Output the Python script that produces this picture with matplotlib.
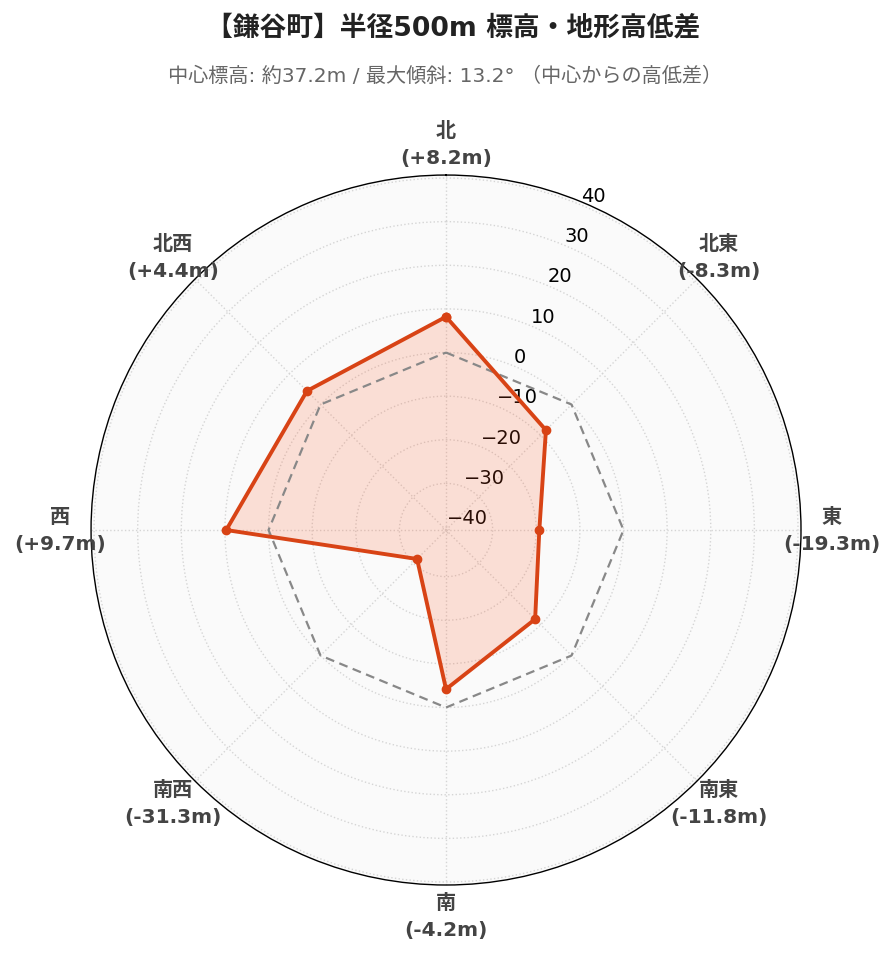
import numpy as np
import matplotlib.pyplot as plt

plt.rcParams['font.family'] = ['DejaVu Sans', 'Noto Sans CJK JP']

# data
directions = ['北', '北東', '東', '南東', '南', '南西', '西', '北西']
diffs = [8.2, -8.3, -19.3, -11.8, -4.2, -31.3, 9.7, 4.4]
ref_level = [0, 0, 0, 0, 0, 0, 0, 0]
r_ticks = [-40, -30, -20, -10, 0, 10, 20, 30, 40]

title = '【鎌谷町】半径500m 標高・地形高低差'
subtitle = '中心標高: 約37.2m / 最大傾斜: 13.2° （中心からの高低差）'

rmax = max(abs(v) for v in diffs) * 1.3
theta = np.deg2rad(np.arange(len(directions)) * 360 / len(directions))
th_closed = np.append(theta, theta[0])
d_closed = np.append(diffs, diffs[0])
ref_closed = np.append(ref_level, ref_level[0])

fig = plt.figure(figsize=(8.96, 9.62), dpi=100)
ax = fig.add_axes([0.1016, 0.079, 0.7924, 0.738], projection='polar')
ax.set_theta_zero_location('N')
ax.set_theta_direction(-1)
ax.set_facecolor('#fafafa')
ax.set_axisbelow(True)

ax.plot(th_closed, ref_closed, color='#888888', lw=1.6, ls=(0, (4, 2.5)), zorder=2)
ax.fill(th_closed, d_closed, color='#ff5722', alpha=0.17, lw=0, zorder=1)
ax.plot(th_closed, d_closed, color='#d84315', lw=2.8, marker='o', ms=6, zorder=3)

ax.set_ylim(-rmax, rmax)
ax.set_yticks(r_ticks)
ax.set_yticklabels([str(t).replace('-', '\u2212') for t in r_ticks], fontsize=14)
ax.set_rlabel_position(22.5)
ax.set_xticks(theta)
ax.set_xticklabels([])
ax.grid(True, color='#d5d5d5', ls=':', lw=1.0)
ax.spines['polar'].set_color('black')
ax.spines['polar'].set_linewidth(1.0)

for t, name, v in zip(theta, directions, diffs):
    ax.text(t, rmax + 7.1, f'{name}\n({v:+.1f}m)', ha='center', va='center',
            fontsize=14.5, fontweight='bold', color='#444444', linespacing=1.55,
            clip_on=False)

fig.text(0.506, 0.970, title, ha='center', va='center', fontsize=19.3,
         fontweight='bold', color='#222222')
fig.text(0.497, 0.921, subtitle, ha='center', va='center', fontsize=14.5,
         color='#666666')

fig.savefig('out.png', dpi=100)
